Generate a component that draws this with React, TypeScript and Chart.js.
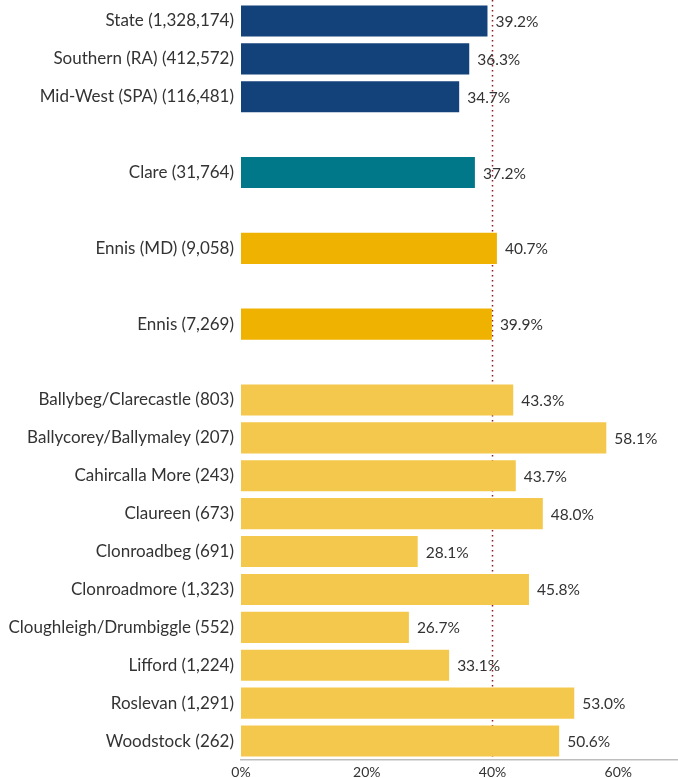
import React, { useEffect, useRef } from "react";
import { Chart, registerables } from "chart.js";
Chart.register(...registerables);

const categories = [
  "State (1,328,174)",
  "Southern (RA) (412,572)",
  "Mid-West (SPA) (116,481)",
  "",
  "Clare (31,764)",
  "",
  "Ennis (MD) (9,058)",
  "",
  "Ennis (7,269)",
  "",
  "Ballybeg/Clarecastle (803)",
  "Ballycorey/Ballymaley (207)",
  "Cahircalla More (243)",
  "Claureen (673)",
  "Clonroadbeg (691)",
  "Clonroadmore (1,323)",
  "Cloughleigh/Drumbiggle (552)",
  "Lifford (1,224)",
  "Roslevan (1,291)",
  "Woodstock (262)",
];

const values: (number | null)[] = [
  39.2, 36.3, 34.7, null, 37.2, null, 40.7, null, 39.9, null,
  43.3, 58.1, 43.7, 48.0, 28.1, 45.8, 26.7, 33.1, 53.0, 50.6,
];

const groups = [
  "region", "region", "region", "", "county", "", "md", "", "md", "",
  "ed", "ed", "ed", "ed", "ed", "ed", "ed", "ed", "ed", "ed",
];

const groupColors: Record<string, string> = {
  region: "#13417a",
  county: "#00788a",
  md: "#efb200",
  ed: "#f4c84c",
  "": "#ffffff",
};

const referenceLine = 40;
const xTicks = [0, 20, 40, 60];

export default function App() {
  const ref = useRef<HTMLCanvasElement | null>(null);

  useEffect(() => {
    if (!ref.current) return;

    const refLinePlugin = {
      id: "refLine",
      beforeDatasetsDraw(chart: any) {
        const { ctx, chartArea, scales } = chart;
        const x = scales.x.getPixelForValue(referenceLine);
        ctx.save();
        ctx.strokeStyle = "#8b1c24";
        ctx.lineWidth = 1.5;
        ctx.setLineDash([1.5, 3.5]);
        ctx.beginPath();
        ctx.moveTo(x, 0);
        ctx.lineTo(x, chartArea.bottom);
        ctx.stroke();
        ctx.restore();
      },
    };

    const valueLabelPlugin = {
      id: "valueLabels",
      afterDatasetsDraw(chart: any) {
        const { ctx } = chart;
        const meta = chart.getDatasetMeta(0);
        ctx.save();
        ctx.font = "15.5px Lato";
        ctx.fillStyle = "#333333";
        ctx.textAlign = "left";
        ctx.textBaseline = "middle";
        meta.data.forEach((bar: any, i: number) => {
          const v = values[i];
          if (v == null) return;
          ctx.fillText(v.toFixed(1) + "%", bar.x + 8, bar.y + 1);
        });
        ctx.restore();
      },
    };

    const chart = new Chart(ref.current, {
      type: "bar",
      data: {
        labels: categories,
        datasets: [
          {
            data: values,
            backgroundColor: groups.map((g) => groupColors[g]),
            barPercentage: 0.82,
            categoryPercentage: 1,
          },
        ],
      },
      options: {
        indexAxis: "y",
        animation: false,
        responsive: true,
        maintainAspectRatio: false,
        layout: { padding: { top: 2, right: 0, bottom: 0, left: 0 } },
        plugins: {
          legend: { display: false },
          tooltip: { enabled: false },
        },
        scales: {
          x: {
            min: 0,
            max: 69.5,
            grid: { display: false, drawTicks: false },
            border: { display: true, color: "#bdbdbd", width: 1.5 },
            afterBuildTicks(scale: any) {
              scale.ticks = xTicks.map((v) => ({ value: v }));
            },
            afterFit(scale: any) {
              scale.height = 18;
            },
            ticks: {
              padding: 4,
              color: "#333333",
              font: { family: "Lato", size: 14 },
              callback: (v: any) => v + "%",
            },
          },
          y: {
            grid: { display: false, drawTicks: false },
            border: { display: false },
            afterFit(scale: any) {
              scale.width = 241;
              scale.paddingTop = 0;
              scale.paddingBottom = 0;
            },
            ticks: {
              padding: 7,
              color: "#333333",
              autoSkip: false,
              font: { family: "Lato", size: 17, lineHeight: 0.2 },
            },
          },
        },
      },
      plugins: [refLinePlugin, valueLabelPlugin],
    });

    return () => chart.destroy();
  }, []);

  return (
    <div style={{ position: "absolute", left: 0, top: 0, width: 678, height: 778 }}>
      <canvas ref={ref} />
    </div>
  );
}
